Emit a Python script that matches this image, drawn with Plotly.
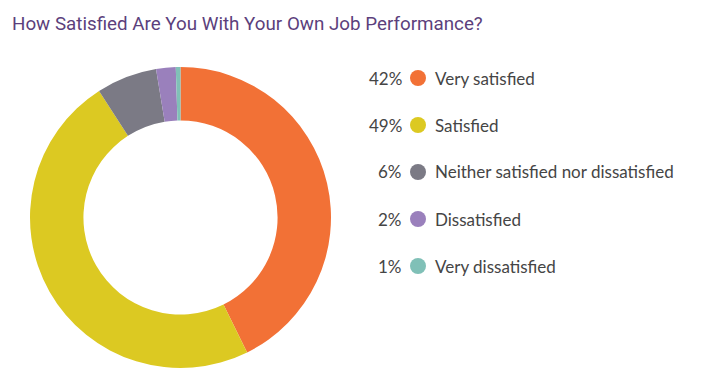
import plotly.graph_objects as go

categories = ["Very satisfied", "Satisfied", "Neither satisfied nor dissatisfied",
              "Dissatisfied", "Very dissatisfied"]
values = [42.7, 48.2, 6.5, 2.1, 0.5]
pct_labels = ["42%", "49%", "6%", "2%", "1%"]
colors = ["#F27136", "#DCC922", "#7B7A85", "#9A80BC", "#80C0B7"]

W, H = 708, 379
fig = go.Figure()
fig.add_trace(go.Pie(
    labels=categories, values=values, sort=False, direction="clockwise", rotation=0,
    hole=0.645, textinfo="none", hoverinfo="label",
    marker=dict(colors=colors, line=dict(width=0)),
    domain=dict(x=[30 / W, 331 / W], y=[(H - 368) / H, (H - 67) / H]),
    showlegend=False,
))

row0, step = 78, 47
font = dict(family="Lato, Open Sans, sans-serif", size=17, color="#454545")
for i, (cat, pct, col) in enumerate(zip(categories, pct_labels, colors)):
    yc = row0 + i * step
    yp = 1 - yc / H
    fig.add_annotation(x=404 / W, y=yp, xref="paper", yref="paper", text=pct,
                       showarrow=False, xanchor="right", yanchor="middle", font=font)
    fig.add_shape(type="circle", xref="paper", yref="paper",
                  x0=410 / W, x1=426 / W, y0=1 - (yc + 8) / H, y1=1 - (yc - 8) / H,
                  fillcolor=col, line=dict(width=0))
    fig.add_annotation(x=433 / W, y=yp, xref="paper", yref="paper", text=cat,
                       showarrow=False, xanchor="left", yanchor="middle", font=font)

fig.update_layout(
    width=W, height=H, margin=dict(l=0, r=0, t=0, b=0),
    paper_bgcolor="white", plot_bgcolor="white",
    title=dict(text="How Satisfied Are You With Your Own Job Performance?",
               x=12 / W, xanchor="left", y=1 - 23 / H, yanchor="middle",
               font=dict(family="Roboto, sans-serif", size=18.8, color="#5C3F7C")),
)
fig.write_html("out.html", config={"displayModeBar": False},
               post_script="document.body.style.margin='0';")
